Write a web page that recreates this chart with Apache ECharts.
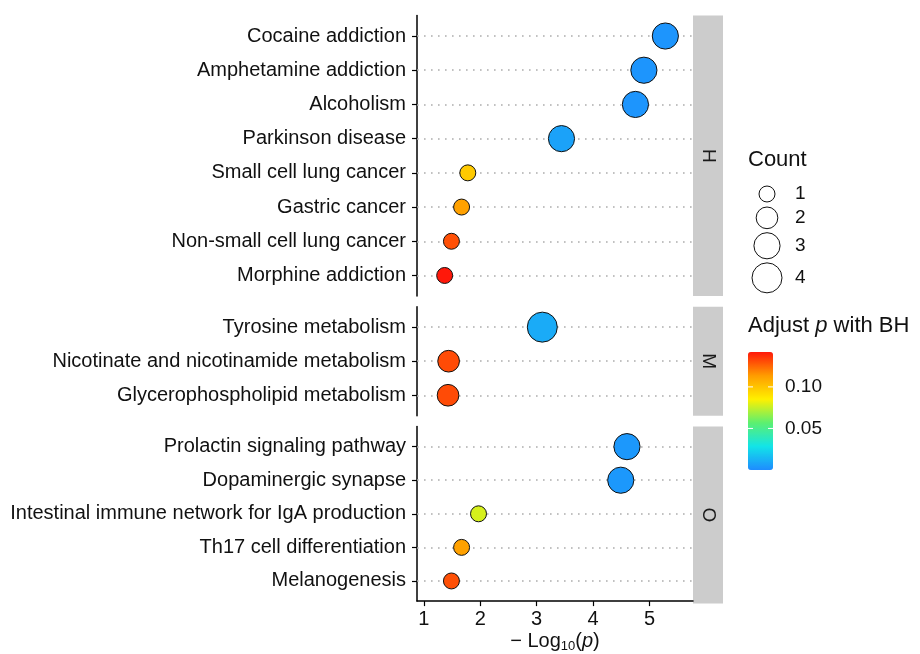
<!DOCTYPE html>
<html>
<head>
<meta charset="utf-8">
<script src="https://cdn.jsdelivr.net/npm/echarts@6/dist/echarts.min.js"></script>
<style>html,body{margin:0;padding:0;background:#fff}#c{width:920px;height:654px}</style>
</head>
<body>
<div id="c"></div>
<script>
// ---- data ----
const catsH = ['Cocaine addiction','Amphetamine addiction','Alcoholism','Parkinson disease','Small cell lung cancer','Gastric cancer','Non-small cell lung cancer','Morphine addiction'];
const logpH = [5.28, 4.90, 4.75, 3.44, 1.78, 1.67, 1.49, 1.37];
const countH = [3, 3, 3, 3, 1, 1, 1, 1];
const padjH = [0.003, 0.003, 0.003, 0.007, 0.098, 0.112, 0.130, 0.142];

const catsM = ['Tyrosine metabolism','Nicotinate and nicotinamide metabolism','Glycerophospholipid metabolism'];
const logpM = [3.10, 1.44, 1.43];
const countM = [4, 2, 2];
const padjM = [0.010, 0.131, 0.131];

const catsO = ['Prolactin signaling pathway','Dopaminergic synapse','Intestinal immune network for IgA production','Th17 cell differentiation','Melanogenesis'];
const logpO = [4.60, 4.49, 1.97, 1.67, 1.49];
const countO = [3, 3, 1, 1, 1];
const padjO = [0.004, 0.004, 0.078, 0.112, 0.130];

const facetNames = ['H', 'M', 'O'];
const xTicks = [1, 2, 3, 4, 5];
const countLegend = [1, 2, 3, 4];
const colorTicks = [0.05, 0.10];
const padjRange = [0, 0.142];

// ---- layout ----
const font = 'Liberation Sans, Arial, Helvetica, sans-serif';
const plotLeft = 417, plotRight = 693;
const panels = [
  {cats: catsH, x: logpH, n: countH, p: padjH, top: 15.5, h: 280.5},
  {cats: catsM, x: logpM, n: countM, p: padjM, top: 306.7, h: 109},
  {cats: catsO, x: logpO, n: countO, p: padjO, top: 426.5, h: 177}
];
const sizeOf = c => Math.sqrt(40 + 215 * c);
const rampColors = ['#1E8CFF', '#12E4E8', '#5CF070', '#FFF000', '#FF9C00', '#FF180A'];

const grids = [], xAxes = [], yAxes = [], series = [], graphics = [];
panels.forEach((pn, k) => {
  grids.push({left: plotLeft, width: plotRight - plotLeft, top: pn.top, height: pn.h, containLabel: false});
  const last = k === panels.length - 1;
  xAxes.push({
    type: 'value', gridIndex: k, min: 0.88, max: 5.77,
    show: true,
    axisLine: {show: last, onZero: false, lineStyle: {color: '#000', width: 1.5}},
    axisTick: {show: last, length: 5, customValues: xTicks, lineStyle: {color: '#000', width: 1.2}},
    axisLabel: {show: last, customValues: xTicks, margin: 8, fontSize: 20, color: '#111', fontFamily: font},
    splitLine: {show: false},
    name: last ? '{n|− Log}{s|10}{n|(}{i|p}{n|)}' : '',
    nameLocation: 'middle', nameGap: 27,
    nameTextStyle: {
      rich: {
        n: {fontSize: 20, fontFamily: font, color: '#111', lineHeight: 24, verticalAlign: 'middle'},
        i: {fontSize: 20, fontFamily: font, color: '#111', fontStyle: 'italic', lineHeight: 24, verticalAlign: 'middle'},
        s: {fontSize: 13, fontFamily: font, color: '#111', lineHeight: 24, padding: [10, 0, 0, 0], verticalAlign: 'middle'}
      }
    }
  });
  const idx = pn.cats.map((_, i) => i);
  yAxes.push({
    type: 'value', gridIndex: k, inverse: true, min: -0.6, max: pn.cats.length - 0.4,
    axisLine: {show: true, onZero: false, lineStyle: {color: '#000', width: 1.5}},
    axisTick: {show: true, length: 5, customValues: idx, lineStyle: {color: '#000', width: 1.2}},
    axisLabel: {customValues: idx, margin: 11, fontSize: 20, color: '#111', fontFamily: font,
      formatter: v => pn.cats[Math.round(v)]},
    splitLine: {show: false}
  });
  series.push({
    type: 'scatter', xAxisIndex: k, yAxisIndex: k, z: 5,
    data: pn.x.map((v, i) => [v, i, pn.n[i], pn.p[i]]),
    symbolSize: d => sizeOf(d[2]),
    itemStyle: {borderColor: '#111', borderWidth: 1, opacity: 1},
    emphasis: {disabled: true},
    markLine: {
      silent: true, symbol: 'none', z: 1, animation: false,
      label: {show: false},
      lineStyle: {type: [1.6, 5.4], color: '#ADADAD', width: 1.6},
      data: idx.map(i => ({yAxis: i}))
    }
  });
  // facet strip
  graphics.push({type: 'rect', shape: {x: plotRight, y: pn.top, width: 30, height: pn.h}, style: {fill: '#CCCCCC'}, silent: true});
  graphics.push({type: 'text', x: plotRight + 15, y: pn.top + pn.h / 2, rotation: -Math.PI / 2,
    style: {text: facetNames[k], font: '19px ' + font, fill: '#1a1a1a', align: 'center', verticalAlign: 'middle'}, silent: true});
});

// size legend
const legX = 748;
graphics.push({type: 'text', x: legX, y: 160, style: {text: 'Count', font: '22px ' + font, fill: '#111', verticalAlign: 'middle'}});
let yc = 194, prevH = null;
countLegend.forEach((c, i) => {
  const d = sizeOf(c), kh = Math.max(d + 4, 22);
  if (prevH !== null) yc += (prevH + kh) / 2;
  prevH = kh;
  graphics.push({type: 'circle', shape: {cx: 767, cy: yc, r: d / 2}, style: {fill: '#fff', stroke: '#111', lineWidth: 1}});
  graphics.push({type: 'text', x: 795, y: yc, style: {text: String(c), font: '19px ' + font, fill: '#111', verticalAlign: 'middle'}});
});

// color legend
const barTop = 352, barH = 118, barX = 748, barW = 25;
graphics.push({type: 'text', x: legX, y: 326, style: {
  text: '{a|Adjust }{i|p}{a| with BH}',
  rich: {a: {font: '22px ' + font, fill: '#111'}, i: {font: 'italic 22px ' + font, fill: '#111'}},
  verticalAlign: 'middle'}});
colorTicks.forEach(t => {
  const y = barTop + barH * (padjRange[1] - t) / (padjRange[1] - padjRange[0]);
  graphics.push({type: 'line', z: 20, shape: {x1: barX, y1: y, x2: barX + 5, y2: y}, style: {stroke: '#fff', lineWidth: 1}});
  graphics.push({type: 'line', z: 20, shape: {x1: barX + barW - 5, y1: y, x2: barX + barW, y2: y}, style: {stroke: '#fff', lineWidth: 1}});
  graphics.push({type: 'text', x: 785, y: y, style: {text: t.toFixed(2), font: '19px ' + font, fill: '#111', verticalAlign: 'middle'}});
});

const chart = echarts.init(document.getElementById('c'), null, {renderer: 'canvas'});
chart.setOption({
  backgroundColor: '#fff',
  animation: false,
  grid: grids,
  xAxis: xAxes,
  yAxis: yAxes,
  visualMap: [{
    type: 'continuous', show: true, dimension: 3, seriesIndex: [0, 1, 2],
    min: padjRange[0], max: padjRange[1], calculable: false, hoverLink: false,
    left: barX, top: barTop, padding: 0, itemWidth: barW, itemHeight: barH,
    text: null, showLabel: false,
    inRange: {color: rampColors}
  }],
  series: series,
  graphic: {elements: graphics}
});
</script>
</body>
</html>
